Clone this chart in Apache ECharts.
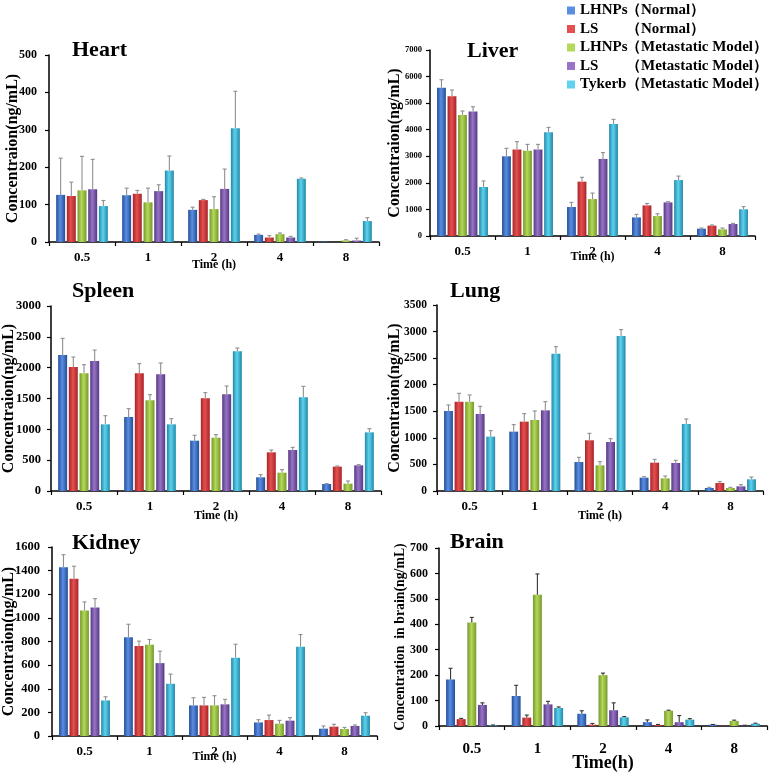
<!DOCTYPE html>
<html>
<head>
<meta charset="utf-8">
<script src="https://cdn.jsdelivr.net/npm/echarts@6/dist/echarts.min.js"></script>
<style>
html,body{margin:0;padding:0;background:#fff;}
#chart{width:776px;height:773px;}
</style>
</head>
<body>
<div id="chart"></div>
<script>
// ---- data ----
const times = ['0.5', '1', '2', '4', '8'];
const groupNames = ['LHNPs（Normal）', 'LS（Normal）', 'LHNPs（Metastatic Model）', 'LS（Metastatic Model）', 'Tykerb（Metastatic Model）'];
const organTitles = ['Heart', 'Liver', 'Spleen', 'Lung', 'Kidney', 'Brain'];
const yAxisTitles = ['Concentraion(ng/mL)', 'Concentraion(ng/mL)', 'Concentraion(ng/mL)', 'Concentraion(ng/mL)', 'Concentraion(ng/mL)', 'Concentration  in brain(ng/mL)'];
const xAxisTitles = ['Time (h)', 'Time (h)', 'Time (h)', 'Time (h)', 'Time (h)', 'Time(h)'];
const yMax = [500, 7000, 3000, 3500, 1600, 700];
const yStep = [100, 1000, 500, 500, 200, 100];

// rows = groups (same order as groupNames), columns = times
const heartMean = [
  [126, 125, 86, 19, 1],
  [123, 129, 112, 12, 0],
  [138, 106, 88, 21, 4],
  [141, 136, 142, 12, 4],
  [96, 191, 304, 169, 56]];
const heartErr = [
  [98, 19, 7, 2, 0],
  [37, 9, 2, 5, 0],
  [91, 38, 33, 3, 2],
  [80, 17, 53, 3, 6],
  [15, 39, 99, 2, 9]];

const liverMean = [
  [5580, 3000, 1090, 700, 275],
  [5255, 3260, 2045, 1150, 390],
  [4555, 3210, 1390, 750, 250],
  [4690, 3260, 2900, 1265, 450],
  [1845, 3900, 4215, 2105, 1005]];
const liverErr = [
  [300, 300, 175, 113, 25],
  [240, 290, 163, 75, 25],
  [150, 238, 226, 87, 50],
  [175, 188, 239, 25, 25],
  [226, 188, 175, 150, 100]];

const spleenMean = [
  [2205, 1200, 816, 222, 114],
  [2011, 1908, 1503, 627, 395],
  [1908, 1470, 865, 297, 119],
  [2108, 1892, 1568, 665, 416],
  [1081, 1081, 2265, 1519, 951]];
const spleenErr = [
  [270, 135, 87, 43, 5],
  [162, 157, 92, 38, 10],
  [140, 92, 49, 49, 43],
  [178, 184, 135, 43, 11],
  [140, 92, 54, 178, 60]];

const lungMean = [
  [1506, 1117, 546, 251, 56],
  [1681, 1305, 954, 533, 151],
  [1681, 1336, 483, 238, 56],
  [1449, 1518, 922, 527, 88],
  [1023, 2585, 2917, 1261, 220]];
const lungErr = [
  [113, 132, 88, 19, 13],
  [157, 150, 131, 63, 25],
  [126, 170, 69, 44, 13],
  [144, 163, 63, 50, 31],
  [113, 131, 119, 94, 43]];

const kidneyMean = [
  [1428, 837, 259, 115, 62],
  [1332, 761, 259, 135, 79],
  [1062, 772, 259, 104, 59],
  [1087, 617, 268, 130, 85],
  [301, 442, 662, 755, 172]];
const kidneyErr = [
  [107, 109, 65, 23, 23],
  [105, 42, 68, 42, 20],
  [73, 45, 82, 28, 14],
  [76, 101, 42, 25, 8],
  [31, 82, 115, 104, 25]];

const brainMean = [
  [183, 118, 48, 15, 5],
  [27, 33, 5, 4, 1],
  [407, 516, 200, 60, 20],
  [83, 85, 62, 15, 2],
  [3, 71, 34, 25, 9]];
const brainErr = [
  [44, 42, 12, 9, 1],
  [3, 10, 5, 2, 0],
  [20, 82, 8, 2, 3],
  [8, 12, 29, 26, 1],
  [1, 4, 3, 4, 2]];

const allMeans = [heartMean, liverMean, spleenMean, lungMean, kidneyMean, brainMean];
const allErrs = [heartErr, liverErr, spleenErr, lungErr, kidneyErr, brainErr];

// ---- layout / style ----
const FONT = '"Liberation Serif", "Times New Roman", serif';
const grids = [
  {left: 49, top: 55, width: 330, height: 187},
  {left: 430, top: 50, width: 325, height: 186},
  {left: 50, top: 306, width: 331, height: 185},
  {left: 437, top: 305, width: 326, height: 186},
  {left: 52, top: 547, width: 325, height: 189},
  {left: 439, top: 548, width: 328, height: 183}
];
const titlePos = [[72, 39.5], [467, 40], [72, 280.5], [450, 280], [72, 532.5], [450, 531.5]];
const yNameGap = [28.5, 27, 34, 34, 35, 32];
const yNameSize = [16, 16, 16, 16, 16, 13.8];
const yLabelSize = [12, 8.5, 12.5, 11.5, 12.5, 12];
const yLabelMargin = [12, 8, 10, 10, 12, 11];
const xLabelSize = [13, 13, 13, 13, 13, 15];
const xLabelMargin = [9, 9, 9, 9, 9, 16];
const xNameSize = [12, 12, 12, 12, 12, 18];
const xNameGap = [17, 15, 19, 19, 15, 28];
const errColor = ['#8f8f8f', '#8f8f8f', '#8f8f8f', '#8f8f8f', '#8f8f8f', '#333333'];

const palette = [
  ['#244e96', '#5a8ee2'],
  ['#a8232a', '#e4504e'],
  ['#76992a', '#b4d85a'],
  ['#553882', '#9874c6'],
  ['#2288a8', '#5ed2ee']
];
const BAR_W = 0.136, BAR_GAP = 0.19;

function grad(i) {
  return new echarts.graphic.LinearGradient(0, 0, 1, 0, [
    {offset: 0, color: palette[i][0]},
    {offset: 0.45, color: palette[i][1]},
    {offset: 1, color: palette[i][0]}
  ]);
}

const option = {
  backgroundColor: '#ffffff',
  animation: false,
  title: organTitles.map((t, k) => ({
    text: t, left: titlePos[k][0], top: titlePos[k][1], padding: 0,
    textStyle: {fontFamily: FONT, fontWeight: 'bold', fontSize: 22, color: '#000'}
  })),
  legend: {
    orient: 'vertical', left: 562, top: -2,
    itemWidth: 8, itemHeight: 8, itemGap: 3.5, icon: 'rect',
    data: groupNames.map((n, i) => ({name: n, itemStyle: {color: palette[i][1]}})),
    formatter: function (name) {
      const k = name.indexOf('（');
      return '{a|' + name.slice(0, k) + '}{b|' + name.slice(k) + '}';
    },
    textStyle: {
      fontFamily: FONT, fontWeight: 'bold', fontSize: 15, color: '#000', lineHeight: 15,
      rich: {
        a: {fontFamily: FONT, fontWeight: 'bold', fontSize: 15, width: 46, color: '#000'},
        b: {fontFamily: FONT, fontWeight: 'bold', fontSize: 15, color: '#000'}
      }
    }
  },
  grid: grids,
  xAxis: grids.map((g, k) => ({
    type: 'category', gridIndex: k, data: times,
    name: xAxisTitles[k], nameLocation: 'middle', nameGap: xNameGap[k], nameMoveOverlap: false,
    nameTextStyle: {fontFamily: FONT, fontWeight: 'bold', fontSize: xNameSize[k], color: '#000', verticalAlign: 'top'},
    axisLine: {lineStyle: {color: '#000', width: 1.5}},
    axisTick: {show: true, length: 4, lineStyle: {color: '#000', width: 1.2}},
    axisLabel: {fontFamily: FONT, fontWeight: 'bold', fontSize: xLabelSize[k], color: '#000', margin: xLabelMargin[k]},
    splitLine: {show: false}
  })),
  yAxis: grids.map((g, k) => ({
    type: 'value', gridIndex: k, min: 0, max: yMax[k], interval: yStep[k],
    name: yAxisTitles[k], nameLocation: 'middle', nameGap: yNameGap[k], nameRotate: 90, nameMoveOverlap: false,
    nameTextStyle: {fontFamily: FONT, fontWeight: 'bold', fontSize: yNameSize[k], color: '#000'},
    axisLine: {show: true, lineStyle: {color: '#000', width: 1.5}},
    axisTick: {show: true, length: 4, lineStyle: {color: '#000', width: 1.2}},
    axisLabel: {fontFamily: FONT, fontWeight: 'bold', fontSize: yLabelSize[k], color: '#000', margin: yLabelMargin[k],
      formatter: function (v) { return String(v); }},
    splitLine: {show: false}
  })),
  series: []
};

allMeans.forEach((means, k) => {
  means.forEach((vals, i) => {
    option.series.push({
      type: 'bar', name: groupNames[i], xAxisIndex: k, yAxisIndex: k,
      data: vals, barWidth: (BAR_W * 100) + '%', barGap: (BAR_GAP * 100) + '%',
      itemStyle: {color: grad(i)}, z: 2
    });
  });
  const errs = allErrs[k];
  const data = [];
  means.forEach((vals, i) => {
    vals.forEach((v, t) => { data.push([t, v + errs[i][t], v, i]); });
  });
  const col = errColor[k];
  option.series.push({
    type: 'custom', xAxisIndex: k, yAxisIndex: k, z: 5, silent: true,
    data: data,
    encode: {x: 0, y: 1},
    renderItem: function (params, api) {
      const t = api.value(0), top = api.value(1), base = api.value(2), g = api.value(3);
      if (top - base <= 0) return null;
      const band = api.size([1, 0])[0];
      const bw = band * BAR_W, gap = bw * BAR_GAP;
      const total = 5 * bw + 4 * gap;
      const pB = api.coord([t, base]);
      const pT = api.coord([t, top]);
      const x = pB[0] - total / 2 + g * (bw + gap) + bw / 2;
      const st = {stroke: col, lineWidth: 1.1};
      return {
        type: 'group', children: [
          {type: 'line', shape: {x1: x, y1: pB[1], x2: x, y2: pT[1]}, style: st},
          {type: 'line', shape: {x1: x - 2, y1: pT[1], x2: x + 2, y2: pT[1]}, style: st}
        ]
      };
    }
  });
});

const chart = echarts.init(document.getElementById('chart'), null, {renderer: 'canvas'});
chart.setOption(option);
</script>
</body>
</html>
